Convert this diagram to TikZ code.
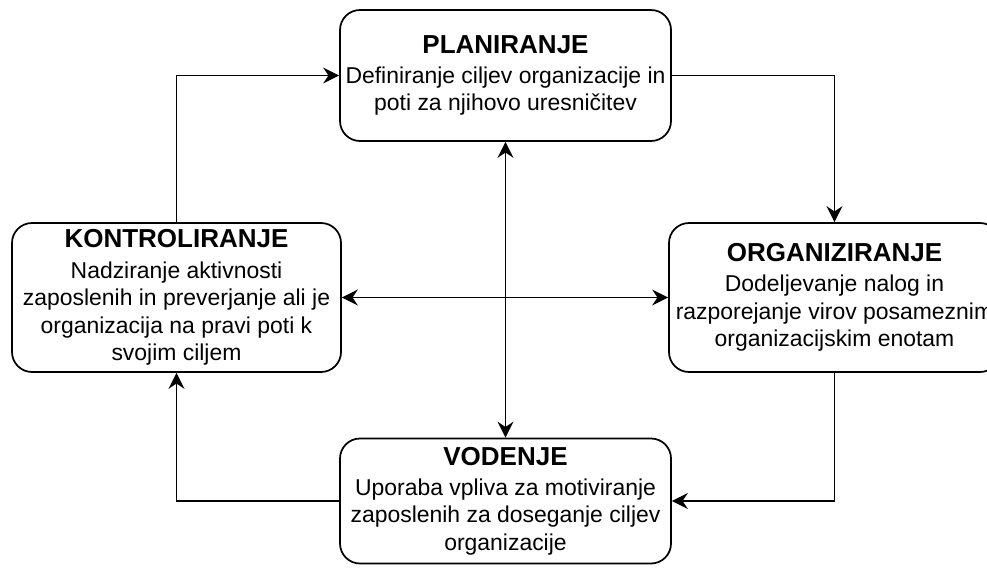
\documentclass[tikz,border=0pt]{standalone}
\usepackage{fontspec}
\setmainfont{Liberation Sans}
\usetikzlibrary{arrows.meta}

\newcommand{\naslov}[1]{{\fontsize{19.5}{23}\selectfont\bfseries #1}\\[2pt]}

\begin{document}
\begin{tikzpicture}[x=0.75pt,y=-0.75pt,
  box/.style={draw,line width=1.3pt,rounded corners=15pt,align=center,
    inner sep=0pt,font=\fontsize{17.2}{20.6}\selectfont},
  flow/.style={line width=1.3pt,-{Stealth[length=12pt,width=12pt,inset=4pt]}},
  both/.style={line width=1.3pt,{Stealth[length=12pt,width=12pt,inset=4pt]}-{Stealth[length=12pt,width=12pt,inset=4pt]}}]
  \useasboundingbox (0,0) rectangle (987,567);

  % okvirji
  \node[box,minimum width=331*0.75pt,minimum height=131*0.75pt] (plan) at (505.5,75.5)
    {\naslov{PLANIRANJE}Definiranje ciljev organizacije in\\poti za njihovo uresničitev};
  \node[box,minimum width=331*0.75pt,minimum height=149*0.75pt] (org) at (834.5,297.5)
    {\naslov{ORGANIZIRANJE}Dodeljevanje nalog in\\razporejanje virov posameznim\\organizacijskim enotam};
  \node[box,minimum width=329*0.75pt,minimum height=149*0.75pt] (ctrl) at (176.5,297.5)
    {\naslov{KONTROLIRANJE}Nadziranje aktivnosti\\zaposlenih in preverjanje ali je\\organizacija na pravi poti k\\svojim ciljem};
  \node[box,minimum width=331*0.75pt,minimum height=125*0.75pt] (vod) at (505.5,501)
    {\naslov{VODENJE}Uporaba vpliva za motiviranje\\zaposlenih za doseganje ciljev\\organizacije};

  % krog
  \draw[flow] (plan.east) -| (org.north);
  \draw[flow] (org.south) |- (vod.east);
  \draw[flow] (vod.west) -| (ctrl.south);
  \draw[flow] (ctrl.north) |- (plan.west);

  % povezave cez sredino
  \draw[both] (plan.south) -- (vod.north);
  \draw[both] (ctrl.east) -- (org.west);
\end{tikzpicture}
\end{document}
